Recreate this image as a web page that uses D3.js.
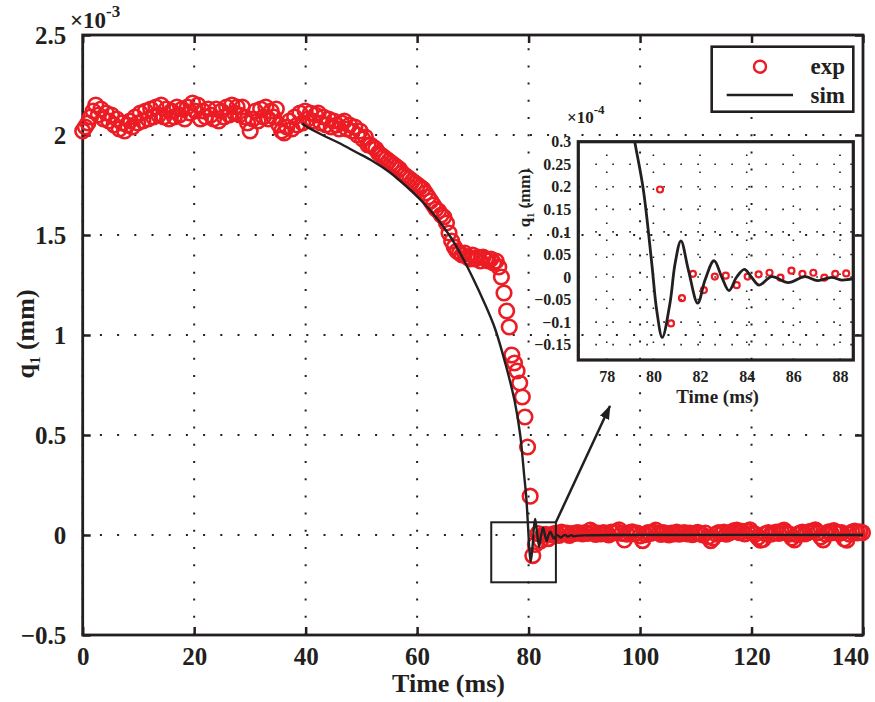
<!DOCTYPE html>
<html>
<head>
<meta charset="utf-8">
<script src="https://cdn.jsdelivr.net/npm/d3@7"></script>
<style>
  body { margin: 0; background: #fff; }
  text { font-family: "Liberation Serif", "Times New Roman", serif; font-weight: bold; fill: #231f20; }
</style>
</head>
<body>
<div id="chart"></div>
<script>
// ---- data ----
const xTicks = [0, 20, 40, 60, 80, 100, 120, 140];
const yTicks = [-0.5, 0, 0.5, 1, 1.5, 2, 2.5];
const insetXTicks = [78, 80, 82, 84, 86, 88];
const insetYTicks = [-0.15, -0.1, -0.05, 0, 0.05, 0.1, 0.15, 0.2, 0.25, 0.3];

// measured signal, one sample every expDt ms starting at 0 ms
const expDt = 0.4695;
const expValues = [
  2.02, 2.04, 2.06, 2.09, 2.12, 2.15, 2.10, 2.13, 2.08, 2.11,
  2.07, 2.10, 2.05, 2.08, 2.03, 2.06, 2.02, 2.05, 2.07, 2.04,
  2.09, 2.06, 2.11, 2.07, 2.12, 2.08, 2.13, 2.09, 2.14, 2.10,
  2.15, 2.09, 2.13, 2.08, 2.12, 2.09, 2.14, 2.10, 2.13, 2.08,
  2.14, 2.11, 2.16, 2.12, 2.15, 2.08, 2.12, 2.09, 2.13, 2.10,
  2.08, 2.13, 2.07, 2.12, 2.09, 2.14, 2.10, 2.15, 2.11, 2.14,
  2.10, 2.14, 2.09, 2.06, 2.02, 2.08, 2.12, 2.07, 2.13, 2.09,
  2.14, 2.08, 2.12, 2.09, 2.13, 2.05, 2.02, 2.01, 2.04, 2.07,
  2.03, 2.09, 2.05, 2.11, 2.06, 2.12, 2.08, 2.11, 2.07, 2.10,
  2.11, 2.06, 2.09, 2.05, 2.08, 2.04, 2.07, 2.05, 2.03, 2.06,
  2.07, 2.03, 2.05, 2.02, 2.04, 2.00, 2.02, 1.98, 1.99, 1.95,
  1.95, 1.94, 1.93, 1.91, 1.90, 1.89, 1.88, 1.87, 1.86, 1.85,
  1.84, 1.83, 1.81, 1.80, 1.79, 1.78, 1.77, 1.76, 1.75, 1.74,
  1.73, 1.71, 1.69, 1.67, 1.65, 1.63, 1.62, 1.60, 1.59, 1.56,
  1.51, 1.47, 1.44, 1.42, 1.41, 1.40, 1.41, 1.39, 1.38, 1.40,
  1.38, 1.39, 1.37, 1.39, 1.38, 1.37, 1.38, 1.36, 1.37, 1.34,
  1.29, 1.21, 1.12, 1.04, 0.90, 0.86, 0.82, 0.76, 0.69, 0.59,
  0.44, 0.194, -0.103, -0.047, 0.007, -0.029, 0.001, 0.003, -0.018, 0.001,
  0.006, 0.0095, -0.0015, 0.014, 0.007, 0.0095, -0.0015, 0.007, 0.008, 0.012,
  0.010, 0.005, 0.012, 0.008, 0.025, 0.015, 0.003, 0.010, 0.006, 0.012,
  0.008, 0.000, 0.014, 0.010, 0.018, 0.026, 0.008, -0.025, 0.004, 0.012,
  0.016, 0.005, 0.010, -0.005, -0.028, 0.002, 0.012, 0.008, 0.015, 0.024,
  0.010, 0.003, 0.012, 0.007, 0.000, 0.010, 0.006, 0.014, 0.004, 0.009,
  0.012, 0.005, 0.010, 0.002, 0.008, 0.013, 0.006, 0.000, 0.010, -0.010,
  -0.028, -0.015, 0.005, 0.012, 0.008, 0.015, 0.004, 0.010, 0.016, 0.022,
  0.024, 0.012, 0.018, 0.006, 0.020, 0.026, 0.010, 0.004, -0.012, -0.026,
  -0.022, 0.006, 0.012, 0.004, 0.010, 0.015, 0.008, 0.018, 0.024, 0.012,
  0.004, -0.015, -0.025, 0.002, 0.010, 0.014, 0.006, 0.012, 0.018, 0.020,
  0.026, 0.012, -0.010, -0.024, 0.004, 0.016, 0.010, 0.022, 0.014, 0.008,
  0.012, -0.020, -0.026, 0.004, 0.014, 0.020, 0.010, 0.016, 0.012
];

// simulated curve
const simTime = [39.4, 40, 43, 46, 49, 52, 55, 58, 61, 63.5, 66, 68, 70, 72, 74, 76, 77.5, 78.5, 79.2,
  79.57, 79.93, 80.14, 80.38, 80.71, 80.93, 81.18, 81.5, 81.9, 82.21, 82.6, 82.93, 83.24, 83.57,
  83.9, 84.2, 84.53, 85.07, 85.78, 86.5, 87.04, 87.64, 88.07, 88.5, 90, 95, 140];
const simValues = [2.058, 2.045, 2.0, 1.96, 1.915, 1.87, 1.815, 1.745, 1.665, 1.585, 1.49, 1.395, 1.285, 1.165, 1.03, 0.84, 0.67, 0.50, 0.30,
  0.193, 0.03, -0.073, -0.134, -0.058, 0.03, 0.080, 0.0155, -0.058, -0.007, 0.036, 0.0, -0.030, 0.0,
  0.017, 0.0, -0.018, 0.0007, -0.0126, 0.0007, -0.008, -0.0007, -0.0067, -0.0044, -0.002, 0, 0];

// zoom window drawn on the main axes, and where its arrow points (data units)
const zoomBox = {t0: 73.3, t1: 84.9, v0: -0.2365, v1: 0.0635};
const arrowTip = {t: 94.6, v: 0.645};

const legendLabels = ["exp", "sim"];

// ---- drawing ----
const ink = "#231f20", red = "#ec1c24";
const fmt = d => (d < 0 ? "\u2212" : "") + Math.abs(d);

const expData = expValues.map((v, i) => ({t: i * expDt, v: v}));
const simData = simTime.map((t, i) => ({t: t, v: simValues[i]}));

let svg = d3.select("#chart").append("svg")
  .attr("width", 875).attr("height", 702);

let x = d3.scaleLinear().domain([0, 140]).range([82.7, 863]);
let y = d3.scaleLinear().domain([-0.5, 2.5]).range([635, 35]);

// grid
let grid = svg.append("g").attr("stroke", ink).attr("stroke-width", 2).attr("stroke-dasharray", "2 15.2");
grid.selectAll(".gx").data(xTicks).join("line")
  .attr("x1", d => x(d)).attr("x2", d => x(d)).attr("y1", y.range()[0]).attr("y2", y.range()[1]);
grid.selectAll(".gy").data(yTicks).join("line")
  .attr("y1", d => y(d)).attr("y2", d => y(d)).attr("x1", x.range()[0]).attr("x2", x.range()[1]);

function styleAxis(g, size) {
  g.attr("font-family", null).attr("font-size", size).attr("color", ink);
  g.select(".domain").remove();
  g.selectAll(".tick line").attr("stroke-width", 2.5);
}

svg.append("g").attr("transform", "translate(0,635)")
  .call(d3.axisBottom(x).tickValues(xTicks).tickSizeInner(-8).tickSizeOuter(0).tickPadding(12).tickFormat(fmt))
  .call(g => styleAxis(g, 25))
  .call(g => g.selectAll(".tick text").filter(d => d === 140).attr("dx", -13));
svg.append("g").attr("transform", "translate(82.7,0)")
  .call(d3.axisLeft(y).tickValues(yTicks).tickSizeInner(-8).tickSizeOuter(0).tickPadding(16.5).tickFormat(fmt))
  .call(g => styleAxis(g, 25));
svg.append("g").attr("transform", "translate(0,35)")
  .call(d3.axisTop(x).tickValues(xTicks).tickSizeInner(-8).tickSizeOuter(0).tickFormat(() => ""))
  .call(g => styleAxis(g, 25));
svg.append("g").attr("transform", "translate(863,0)")
  .call(d3.axisRight(y).tickValues(yTicks).tickSizeInner(-8).tickSizeOuter(0).tickFormat(() => ""))
  .call(g => styleAxis(g, 25));

svg.append("rect")
  .attr("x", x.range()[0]).attr("y", y.range()[1])
  .attr("width", x.range()[1] - x.range()[0]).attr("height", y.range()[0] - y.range()[1])
  .attr("fill", "none").attr("stroke", ink).attr("stroke-width", 2.8);

// exp markers
svg.append("g").selectAll("circle").data(expData).join("circle")
  .attr("cx", d => x(d.t)).attr("cy", d => y(d.v)).attr("r", 7.3)
  .attr("fill", "none").attr("stroke", red).attr("stroke-width", 2.6);

// sim line
let simLine = d3.line().x(d => x(d.t)).y(d => y(d.v)).curve(d3.curveCatmullRom.alpha(0.5));
svg.append("path").datum(simData).attr("d", simLine)
  .attr("fill", "none").attr("stroke", ink).attr("stroke-width", 2.4);

// zoom box + arrow
svg.append("rect")
  .attr("x", x(zoomBox.t0)).attr("y", y(zoomBox.v1))
  .attr("width", x(zoomBox.t1) - x(zoomBox.t0)).attr("height", y(zoomBox.v0) - y(zoomBox.v1))
  .attr("fill", "none").attr("stroke", ink).attr("stroke-width", 2);

svg.append("defs").append("marker")
  .attr("id", "head").attr("viewBox", "0 0 14 10").attr("refX", 13).attr("refY", 5)
  .attr("markerWidth", 14).attr("markerHeight", 10).attr("markerUnits", "userSpaceOnUse")
  .attr("orient", "auto")
  .append("path").attr("d", "M0,0 L14,5 L0,10 Z").attr("fill", ink);

svg.append("line")
  .attr("x1", x(zoomBox.t1)).attr("y1", y(zoomBox.v1))
  .attr("x2", x(arrowTip.t)).attr("y2", y(arrowTip.v))
  .attr("stroke", ink).attr("stroke-width", 2.5).attr("marker-end", "url(#head)");

// axis titles
svg.append("text").attr("x", 448.5).attr("y", 692).attr("text-anchor", "middle")
  .attr("font-size", 26).text("Time (ms)");
let yt = svg.append("text").attr("transform", "translate(34,334) rotate(-90)")
  .attr("text-anchor", "middle").attr("font-size", 26);
yt.append("tspan").text("q");
yt.append("tspan").attr("font-size", 15).attr("dy", 6).text("1");
yt.append("tspan").attr("dy", -6).text(" (mm)");

let ex = svg.append("text").attr("x", 70).attr("y", 28).attr("font-size", 23);
ex.append("tspan").text("\u00d710");
ex.append("tspan").attr("font-size", 17).attr("dy", -11).text("-3");

// ---- inset ----
let ix = d3.scaleLinear().domain([76.78, 88.57]).range([578.3, 853.3]);
let iy = d3.scaleLinear().domain([-0.184, 0.3]).range([360, 141.7]);

svg.append("defs").append("clipPath").attr("id", "insetClip")
  .append("rect").attr("x", ix.range()[0]).attr("y", iy.range()[1])
  .attr("width", ix.range()[1] - ix.range()[0]).attr("height", iy.range()[0] - iy.range()[1]);

let inset = svg.append("g");
let igrid = inset.append("g").attr("stroke", ink).attr("stroke-width", 1.6).attr("stroke-dasharray", "1.6 15.4");
igrid.selectAll(".gx").data(insetXTicks).join("line")
  .attr("x1", d => ix(d)).attr("x2", d => ix(d)).attr("y1", iy.range()[0]).attr("y2", iy.range()[1]);
igrid.selectAll(".gy").data(insetYTicks).join("line")
  .attr("y1", d => iy(d)).attr("y2", d => iy(d)).attr("x1", ix.range()[0]).attr("x2", ix.range()[1]);

let iplot = inset.append("g").attr("clip-path", "url(#insetClip)");
iplot.selectAll("circle").data(expData.filter(d => d.t >= 76.78 && d.t <= 88.57 && d.v <= 0.3)).join("circle")
  .attr("cx", d => ix(d.t)).attr("cy", d => iy(d.v)).attr("r", 3)
  .attr("fill", "none").attr("stroke", red).attr("stroke-width", 2.2);
let insetLine = d3.line().x(d => ix(d.t)).y(d => iy(d.v)).curve(d3.curveCatmullRom.alpha(0.5));
iplot.append("path").datum(simData.filter(d => d.t >= 74 && d.t <= 95)).attr("d", insetLine)
  .attr("fill", "none").attr("stroke", ink).attr("stroke-width", 2.8);

inset.append("rect")
  .attr("x", ix.range()[0]).attr("y", iy.range()[1])
  .attr("width", ix.range()[1] - ix.range()[0]).attr("height", iy.range()[0] - iy.range()[1])
  .attr("fill", "none").attr("stroke", ink).attr("stroke-width", 3.2);

inset.append("g").attr("transform", "translate(0,360)")
  .call(d3.axisBottom(ix).tickValues(insetXTicks).tickSize(0).tickPadding(11).tickFormat(fmt))
  .call(g => styleAxis(g, 16));
inset.append("g").attr("transform", "translate(578.3,0)")
  .call(d3.axisLeft(iy).tickValues(insetYTicks).tickSize(0).tickPadding(7).tickFormat(fmt))
  .call(g => styleAxis(g, 16));

inset.append("text").attr("x", 717.5).attr("y", 403).attr("text-anchor", "middle")
  .attr("font-size", 19).text("Time (ms)");
let iyt = inset.append("text").attr("transform", "translate(530,198) rotate(-90)")
  .attr("text-anchor", "middle").attr("font-size", 17);
iyt.append("tspan").text("q");
iyt.append("tspan").attr("font-size", 10).attr("dy", 4).text("1");
iyt.append("tspan").attr("dy", -4).text(" (mm)");

let iex = inset.append("text").attr("x", 567).attr("y", 123).attr("font-size", 17);
iex.append("tspan").text("\u00d710");
iex.append("tspan").attr("font-size", 13).attr("dy", -9).text("-4");

// ---- legend ----
let legend = svg.append("g");
legend.append("rect").attr("x", 711.7).attr("y", 46.7).attr("width", 141.6).attr("height", 65)
  .attr("fill", "#fff").attr("stroke", ink).attr("stroke-width", 2.6);
legend.append("circle").attr("cx", 760).attr("cy", 66.7).attr("r", 6)
  .attr("fill", "none").attr("stroke", red).attr("stroke-width", 2.4);
legend.append("line").attr("x1", 726.7).attr("x2", 793).attr("y1", 95).attr("y2", 95)
  .attr("stroke", ink).attr("stroke-width", 2.6);
legend.selectAll(".lt").data(legendLabels).join("text")
  .attr("x", 845).attr("y", (d, i) => 74 + i * 29).attr("text-anchor", "end")
  .attr("font-size", 23).text(d => d);
</script>
</body>
</html>
